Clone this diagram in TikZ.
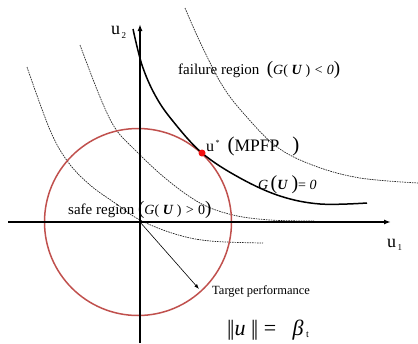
\documentclass[tikz,border=0pt]{standalone}
\usepackage{fontspec}
\setmainfont{Liberation Serif}
\usetikzlibrary{arrows.meta}
\definecolor{circred}{HTML}{C0504D}
\definecolor{dotred}{HTML}{F01010}
\newcommand{\fsz}[1]{\fontsize{#1}{#1}\selectfont}
\begin{document}
\begin{tikzpicture}[x=1pt,y=-1pt,
  axisline/.style={line width=1.6pt,-{Latex[length=7pt,width=5pt]}},
  limitline/.style={line width=1.5pt},
  dasharc/.style={line width=0.7pt,dash pattern=on 1.6pt off 0.9pt,black!85},
  lbl/.style={inner sep=0pt,anchor=base west}]
\useasboundingbox (0,0) rectangle (418,343);
% axes
\coordinate (O) at (140,222);
\coordinate (xl) at (8,222);
\coordinate (xr) at (391,222);
\coordinate (yb) at (140,343);
\coordinate (yt) at (140,24);
% dashed arcs
\draw[dasharc] plot[smooth,tension=0.6] coordinates {(185,8) (200,42) (222,85) (245,115) (277,147) (315,166) (360,178) (418,183)};
\draw[dasharc] plot[smooth,tension=0.6] coordinates {(80,45) (100,97) (115,128) (132,147) (165,178) (200,203) (233,215) (270,220) (314,221)};
\draw[dasharc] plot[smooth,tension=0.6] coordinates {(27,67) (50,130) (68,162) (90,185) (115,203) (140,220) (175,234) (210,241) (263,243)};
% red circle
\node[circle,draw=circred,line width=1.5pt,minimum size=187pt,inner sep=0pt] (ring) at (138,222) {};
\draw[axisline] (xl) -- (xr);
\draw[axisline] (yb) -- (yt);
% limit state
\draw[limitline] plot[smooth,tension=0.6] coordinates {(133,29) (142,65) (155,95) (172,120) (202,153) (240,178) (280,196) (320,204) (367,203)};
% MPFP
\node[circle,fill=dotred,minimum size=7pt,inner sep=0pt] (mpfp) at (202,153) {};
% target arrow
\coordinate (tgt) at (199,289);
\draw[line width=0.6pt,-{Latex[length=5pt,width=3.5pt]}] (O) -- (tgt);
% labels
\node[lbl] (u2) at (111,34) {\fsz{18}u\raisebox{-4pt}{\fsz{9}\,2}};
\node[lbl] (u1) at (387,247) {\fsz{18}u\raisebox{-3pt}{\fsz{9}\,1}};
\node[lbl] (fail) at (178,74) {\fsz{15}failure region\ \ {\fsz{19}(}\fsz{14}\textit{G}(\ \textbf{\textit{U}}\ )\ \textit{<}\ \textit{0}{\fsz{19})}};
\node[lbl] (safe) at (68,214) {\fsz{15}safe region\ {\fsz{19}(}\fsz{14}\textit{G}(\ \textbf{\textit{U}}\ )\ \textit{>}\ 0{\fsz{19})}};
\node[lbl] (ustar) at (206,151) {\fsz{16}u\raisebox{6pt}{\fsz{8}\,*}\ \ {\fsz{21}(}\fsz{17.5}MPFP\ \ \ {\fsz{21})}};
\node[lbl] (geq) at (258,189) {\fsz{14}\textit{G}\,{\fsz{20}(}\textbf{\textit{U}}\ {\fsz{20})}= \textit{0}};
\node[lbl] (tp) at (212,294) {\fsz{12.5}Target performance};
\node[lbl] (norm) at (227,335) {\fsz{22}|\kern-1.5pt|\textit{u}\ |\kern-1.5pt|\ = \ \ \textit{β}\raisebox{-2pt}{\fsz{10}\ t}};
\end{tikzpicture}
\end{document}
